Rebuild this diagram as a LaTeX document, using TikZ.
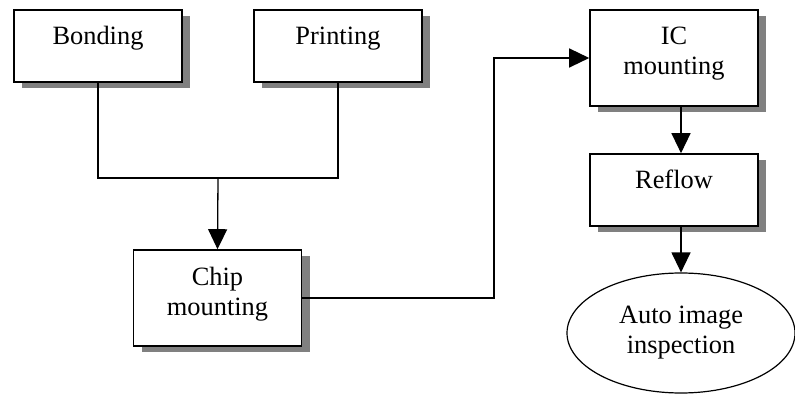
\documentclass[tikz,border=0pt]{standalone}
\usepackage{fontspec}
\setmainfont{Liberation Serif}
\usetikzlibrary{shadows,arrows.meta,shapes.geometric}

\begin{document}
\begin{tikzpicture}[x=0.5pt, y=-0.5pt,
      font=\fontsize{13.2}{15}\selectfont,
      stepbox/.style = {shape=rectangle, draw, line width=0.8pt, fill=white,
        minimum width=84pt, minimum height=36pt, inner sep=0pt, align=center,
        text height=9pt, text depth=10pt,
        drop shadow={shadow xshift=4pt, shadow yshift=-3pt, fill=black!50, opacity=1}},
      tallbox/.style = {stepbox, minimum height=48pt, text height=20pt, text depth=3pt},
      endbox/.style = {ellipse, draw, line width=0.6pt, fill=white,
        minimum width=114pt, minimum height=60pt, inner sep=0pt, align=center},
      flow/.style = {line width=0.65pt},
      arr/.style = {flow, -{Triangle[length=10pt, width=9.5pt]}}]
  \useasboundingbox (0,0) rectangle (795,394);
  \node[stepbox] (bond) at (98,46) {Bonding};
  \node[stepbox] (print) at (338,46) {Printing};
  \node[tallbox] (chip) at (217.5,298) {Chip\\mounting};
  \node[tallbox] (ic) at (674,58) {IC\\mounting};
  \node[stepbox] (reflow) at (674,190) {Reflow};
  \node[endbox] (insp) at (681,333) {Auto image\\inspection};
  \coordinate (join) at (218,178);
  \coordinate (bend) at (494,298);
  % printing and bonding meet above chip mounting
  \draw[flow] (bond.south) |- (join) -| (print.south);
  \draw[arr] (join) -- (chip.north);
  \draw[arr] (chip.east) -| (bend) |- (ic.west);
  \draw[arr] (insp.north |- ic.south) -- (insp.north |- reflow.north);
  \draw[arr] (insp.north |- reflow.south) -- (insp.north);
\end{tikzpicture}
\end{document}
